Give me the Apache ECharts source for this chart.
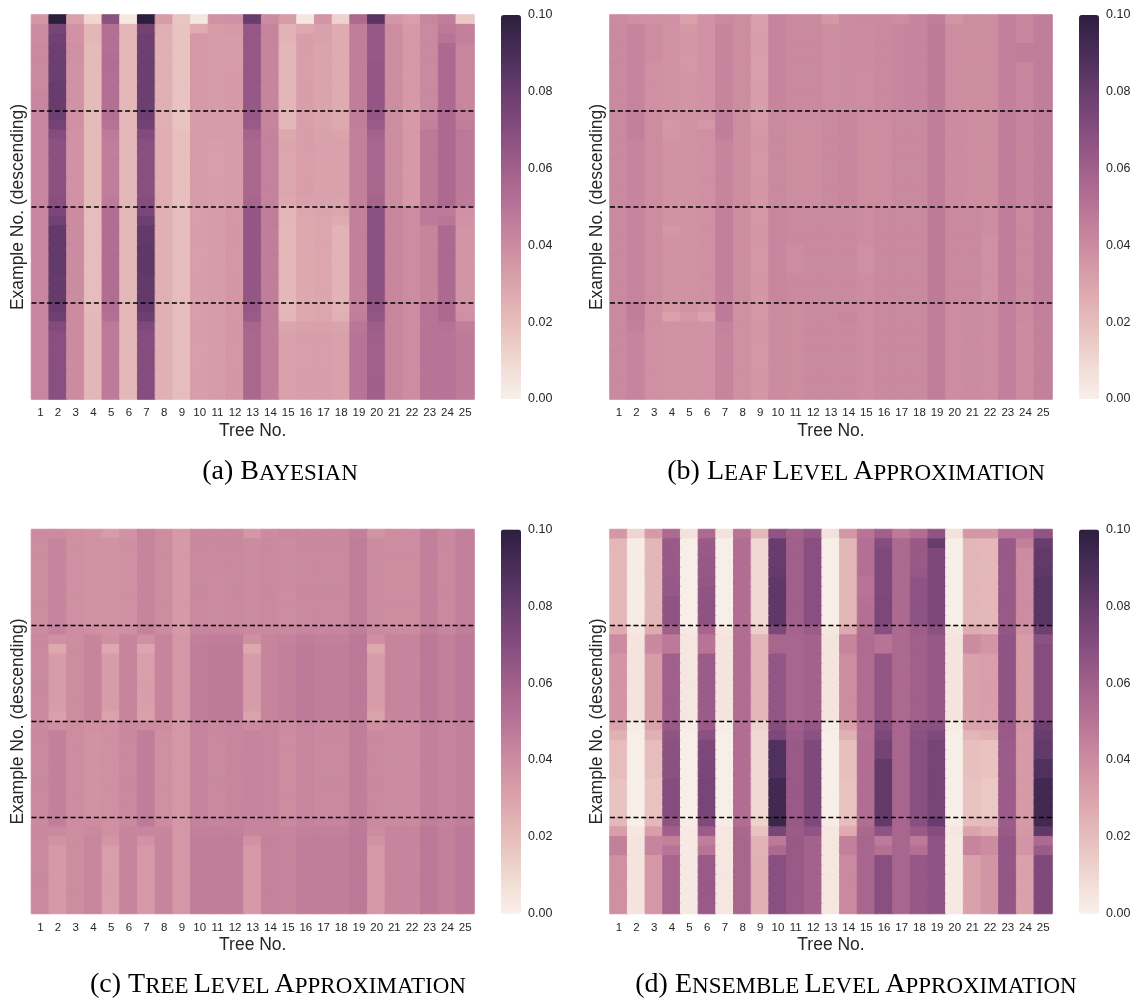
<!DOCTYPE html>
<html>
<head>
<meta charset="utf-8">
<script src="https://cdn.jsdelivr.net/npm/echarts@6/dist/echarts.min.js"></script>
<style>
  body { margin: 0; background: #fff; }
  #chart { width: 1137px; height: 999px; }
</style>
</head>
<body>
<div id="chart"></div>
<script>
// tick labels of the x axis
var treeLabels = ['1','2','3','4','5','6','7','8','9','10','11','12','13','14','15','16','17','18','19','20','21','22','23','24','25'];
// row boundaries drawn as dashed lines
var dividerRows = [10, 20, 30];
// colour bar ticks
var barMin = 0, barMax = 0.1, barStep = 0.02;

// values in thousandths, one array per example row (top to bottom), 25 trees each
var bayesian = [
  [35,100,31,10,68, 3,100,33,17, 4,37,38,80,40,33, 4,36,12,55,85,35,32,42,46,16],
  [40, 75,37,23,52,23, 76,26,18,27,33,34,64,43,24,28,31,27,46,64,39,34,41,48,45],
  [40, 77,37,23,52,23, 78,25,18,34,33,33,64,43,24,32,31,27,46,64,39,34,41,50,45],
  [41, 78,38,21,52,22, 78,25,18,34,33,33,64,43,23,32,30,27,46,64,39,34,41,55,42],
  [41, 79,38,21,53,22, 79,25,18,34,33,33,64,43,23,32,30,27,46,64,39,34,41,55,42],
  [41, 79,37,21,53,22, 79,25,18,34,33,33,64,43,23,32,30,27,46,65,39,34,41,55,42],
  [41, 79,37,21,52,22, 79,25,18,34,33,34,64,43,23,32,30,27,46,65,39,34,41,55,42],
  [41, 80,37,21,52,22, 79,25,18,34,33,34,64,43,23,32,30,27,46,65,39,34,41,55,42],
  [42, 80,37,21,52,22, 79,25,18,34,33,34,64,43,23,32,30,27,46,65,39,34,41,55,42],
  [42, 80,37,21,52,22, 79,25,18,34,33,34,64,43,23,32,30,27,46,65,39,34,41,55,42],
  [42, 79,38,21,52,22, 79,25,18,33,33,33,64,43,23,32,30,28,46,65,39,34,44,55,45],
  [42, 76,38,21,51,22, 77,25,18,33,33,33,63,43,23,32,30,28,46,63,39,34,45,55,46],
  [42, 70,37,21,47,22, 71,26,19,33,33,33,58,44,28,32,31,30,45,59,39,34,48,55,48],
  [42, 68,37,21,46,22, 69,26,19,33,32,33,56,44,29,32,31,31,45,57,39,34,48,55,48],
  [42, 68,37,21,46,22, 69,26,19,33,32,33,56,44,29,32,31,31,45,57,39,34,48,55,48],
  [42, 68,37,21,46,22, 69,26,19,33,32,33,56,44,29,32,31,31,45,57,39,34,48,55,48],
  [42, 68,37,21,46,22, 69,26,19,33,32,33,56,44,29,32,31,31,45,57,39,34,48,55,48],
  [42, 68,37,21,46,22, 69,26,19,33,32,33,56,44,29,32,31,31,45,57,39,34,48,55,48],
  [42, 68,37,21,46,22, 69,26,19,33,32,33,56,44,29,32,31,31,45,57,39,34,48,55,48],
  [42, 69,37,21,47,22, 70,26,19,33,32,33,57,44,28,31,31,30,45,58,39,34,48,55,47],
  [42, 74,40,20,53,22, 74,25,20,32,33,35,65,46,23,29,30,29,45,68,42,39,47,47,38],
  [42, 77,40,20,53,22, 78,25,20,32,33,35,65,46,23,28,29,27,45,68,42,39,47,49,37],
  [42, 82,40,20,53,22, 82,25,20,32,33,35,65,46,22,28,29,24,45,68,42,39,43,55,36],
  [42, 82,40,20,53,22, 82,25,20,32,33,35,65,46,22,28,29,24,45,68,42,39,43,55,36],
  [42, 82,40,20,53,22, 83,25,20,32,33,35,65,46,22,28,29,24,45,68,42,39,43,55,36],
  [42, 82,40,20,53,22, 83,25,20,32,33,35,65,46,22,28,29,24,45,68,42,39,43,55,36],
  [42, 82,40,20,53,22, 83,25,20,32,33,35,65,46,22,28,29,24,45,68,42,39,43,55,36],
  [42, 81,40,20,53,22, 82,25,20,32,33,35,65,46,22,28,29,24,45,68,42,39,43,55,36],
  [42, 81,40,20,53,22, 82,25,20,32,33,35,65,46,22,28,29,24,45,68,42,39,43,55,36],
  [42, 81,40,20,53,22, 82,25,20,32,33,35,65,46,22,28,29,24,45,68,42,39,43,55,36],
  [42, 80,40,21,53,22, 81,25,20,32,33,35,64,46,22,28,29,24,45,66,42,39,50,55,37],
  [42, 78,40,22,52,22, 79,25,20,32,33,35,63,46,23,28,29,25,46,65,42,39,50,55,38],
  [42, 71,40,23,48,22, 72,25,20,32,33,35,57,46,29,31,31,30,49,61,42,39,50,51,46],
  [42, 69,40,23,47,22, 70,25,20,32,33,35,56,46,31,32,32,31,50,60,42,39,50,50,47],
  [42, 69,40,23,47,22, 70,25,20,32,33,35,56,46,31,32,32,31,50,60,42,39,50,50,47],
  [42, 69,40,23,47,22, 70,25,20,32,33,35,56,46,31,32,32,31,50,60,42,39,50,50,47],
  [42, 69,40,23,47,22, 70,25,20,32,33,35,56,46,31,32,32,31,50,60,42,39,50,50,47],
  [42, 69,40,23,47,22, 70,25,20,32,33,35,56,46,31,32,32,31,50,60,42,39,50,50,47],
  [42, 69,40,23,47,22, 70,25,20,32,33,35,56,46,31,32,32,31,50,60,42,39,50,50,47],
  [42, 69,40,23,47,22, 70,25,20,32,33,35,56,46,31,32,32,31,50,60,42,39,50,50,47]
];

var leafLevel = [
  [40,38,38,38,31,37,41,39,32,43,41,41,35,40,41,41,39,43,46,36,39,39,45,42,46],
  [41,43,39,37,35,37,43,39,32,43,41,41,39,40,40,41,42,43,47,39,39,39,45,42,46],
  [41,43,39,37,35,37,43,39,32,43,41,41,39,40,40,41,42,43,47,39,39,39,45,42,46],
  [41,43,39,37,35,37,43,39,32,43,41,41,39,40,40,41,42,43,47,39,39,39,45,46,46],
  [41,43,39,37,35,37,43,39,32,43,41,41,39,40,40,41,42,43,47,39,39,39,45,46,46],
  [41,43,38,37,35,37,43,39,32,43,41,41,39,40,40,41,42,43,47,39,39,39,45,42,46],
  [41,43,38,37,36,37,43,39,32,43,41,41,39,40,39,41,42,43,47,39,39,39,45,42,46],
  [41,43,38,37,36,37,43,39,32,43,41,41,39,40,39,41,42,43,47,39,39,39,45,42,46],
  [41,43,38,37,36,37,43,39,32,43,41,41,39,40,39,41,42,43,47,39,39,39,45,42,46],
  [41,43,38,37,36,37,43,39,32,43,41,41,39,40,39,41,42,43,47,39,39,39,45,42,46],
  [41,45,39,37,37,38,46,39,33,41,40,40,41,42,39,40,41,41,46,40,39,39,46,43,46],
  [41,45,39,35,37,35,46,39,34,41,39,39,41,42,39,39,41,41,46,40,39,39,46,43,46],
  [41,45,39,35,37,38,46,39,35,41,39,39,41,42,39,39,41,41,46,40,39,39,46,43,46],
  [41,43,39,37,37,38,43,39,35,41,39,39,41,42,39,39,41,41,46,40,39,39,46,43,46],
  [41,43,39,37,37,38,43,39,35,41,39,39,41,42,39,39,41,41,46,40,39,39,46,43,46],
  [41,43,39,37,37,38,43,39,35,41,39,39,41,42,39,39,41,41,46,40,39,39,46,43,46],
  [41,43,39,37,37,38,43,39,35,41,39,39,41,42,39,39,41,41,46,40,39,39,46,43,46],
  [41,43,39,37,37,38,43,39,35,41,39,39,41,42,39,39,41,41,46,40,39,39,46,43,46],
  [41,43,39,37,37,38,43,39,35,41,39,39,41,42,39,39,41,41,46,40,39,39,46,43,46],
  [41,43,39,37,37,38,43,39,35,41,39,39,41,42,39,39,41,41,46,40,39,39,46,43,46],
  [41,43,39,37,37,38,45,39,35,42,41,41,41,41,39,41,41,41,47,41,41,39,46,41,46],
  [41,43,39,37,37,38,45,39,35,42,41,41,41,41,39,41,41,41,47,41,41,39,46,41,46],
  [41,43,39,35,37,38,45,39,35,42,41,41,41,41,39,41,41,41,47,41,41,39,46,41,46],
  [41,43,39,37,37,38,45,39,35,42,41,41,41,41,39,41,41,41,47,41,41,38,46,41,46],
  [41,43,39,37,37,38,45,39,35,42,39,41,41,41,38,41,41,41,47,41,41,38,46,41,46],
  [41,43,39,37,37,38,45,39,35,42,39,41,41,41,38,41,41,41,47,41,41,38,46,41,46],
  [41,43,39,37,37,38,45,39,35,42,39,41,41,41,38,41,41,41,47,41,41,38,46,41,46],
  [41,43,39,37,37,38,45,39,35,42,41,41,41,41,39,41,41,41,47,41,41,38,46,41,46],
  [41,43,39,37,37,38,45,39,35,42,41,41,41,41,39,41,41,41,47,41,41,38,46,41,46],
  [41,43,39,37,37,38,45,39,35,42,41,41,41,41,39,41,41,41,47,41,41,38,46,41,46],
  [41,46,38,35,37,35,47,38,35,40,39,41,41,41,39,41,41,41,46,39,40,39,45,41,45],
  [41,46,38,31,35,31,47,38,35,40,39,41,41,42,39,41,41,41,46,39,40,39,45,41,45],
  [41,45,38,37,37,37,44,38,35,40,39,41,41,41,39,41,41,41,46,39,40,39,45,40,45],
  [41,43,38,37,37,37,43,38,35,40,39,41,41,41,39,41,41,41,46,39,40,39,45,40,45],
  [41,43,38,37,37,37,43,38,35,40,39,41,41,41,39,41,41,41,46,39,40,39,45,40,45],
  [41,43,38,37,37,37,43,38,35,40,39,41,41,41,39,41,41,41,46,39,40,39,45,40,45],
  [41,43,38,37,37,37,43,38,35,40,39,41,41,41,39,41,41,41,46,39,40,39,45,40,45],
  [41,43,38,37,37,37,43,38,35,40,39,41,41,41,39,41,41,41,46,39,40,39,45,40,45],
  [41,43,38,37,37,37,43,38,35,40,39,41,41,41,39,41,41,41,46,39,40,39,45,40,45],
  [41,43,38,37,37,37,43,38,35,40,39,41,41,41,39,41,41,41,46,39,40,39,45,40,45]
];

var treeLevel = [
  [40,40,38,37,33,37,43,39,34,41,41,41,35,40,41,41,41,41,45,36,39,39,45,41,45],
  [39,43,38,37,37,38,43,39,34,41,41,41,40,41,40,41,41,41,46,40,39,39,45,41,45],
  [39,43,38,37,37,38,43,39,34,41,41,41,40,41,40,41,41,41,46,40,39,39,45,41,45],
  [39,43,38,37,37,38,43,39,34,41,41,41,40,41,40,41,41,41,46,40,39,39,45,41,45],
  [39,43,38,37,37,38,43,39,34,41,41,41,40,41,40,41,41,41,46,40,39,39,45,41,45],
  [39,43,38,37,37,38,43,39,34,41,40,41,40,41,40,41,41,41,46,40,39,39,45,41,45],
  [39,43,38,37,37,38,43,39,34,41,40,41,40,41,39,41,41,41,46,40,39,39,45,41,45],
  [39,43,38,37,37,38,43,39,34,41,40,41,40,41,39,41,41,41,46,40,39,39,45,41,45],
  [39,43,38,37,37,38,43,39,34,41,40,41,40,41,39,41,41,41,46,40,39,39,45,41,45],
  [39,43,38,37,37,38,43,39,34,41,40,41,40,41,39,41,41,41,46,40,39,39,45,41,45],
  [40,44,39,38,37,38,44,40,34,42,42,42,41,41,41,42,42,42,46,41,40,40,46,42,46],
  [41,38,39,42,38,42,38,43,35,45,46,46,38,43,44,46,45,45,48,38,43,43,48,45,48],
  [41,28,39,43,28,43,29,43,35,46,47,47,28,43,45,47,46,46,48,28,43,43,48,45,48],
  [41,33,39,43,33,43,32,43,35,46,47,47,33,43,45,47,46,46,48,33,43,43,48,45,48],
  [41,33,39,43,33,43,32,43,35,46,47,47,33,43,45,47,46,46,48,33,43,43,48,45,48],
  [41,33,39,43,33,43,32,43,35,46,47,47,33,43,45,47,46,46,48,33,43,43,48,45,48],
  [41,33,39,43,33,43,32,43,35,46,47,47,33,43,45,47,46,46,48,33,43,43,48,45,48],
  [41,33,39,43,33,43,32,43,35,46,47,47,33,43,45,47,46,46,48,33,43,43,48,45,48],
  [41,33,39,43,33,43,32,43,35,46,47,47,33,43,45,47,46,46,48,33,43,43,48,45,48],
  [41,31,39,43,30,43,31,43,35,46,47,47,30,43,45,47,46,46,48,30,43,43,48,45,48],
  [41,38,39,38,38,41,40,39,35,43,41,42,40,42,40,42,41,41,46,38,40,40,45,43,45],
  [41,45,39,37,38,41,46,38,35,43,41,42,43,42,39,42,41,41,46,41,40,40,45,43,45],
  [41,45,39,37,38,41,46,38,35,43,41,42,43,42,39,42,41,41,46,41,40,40,45,43,45],
  [41,45,39,37,38,41,46,38,35,43,41,42,43,42,39,42,41,41,46,41,40,40,45,43,45],
  [41,45,39,37,38,41,46,38,35,43,41,42,43,42,39,42,41,41,46,41,40,40,45,43,45],
  [41,45,39,37,38,41,46,38,35,43,41,42,43,42,39,42,41,41,46,41,40,40,45,43,45],
  [41,45,39,37,38,41,46,38,35,43,41,42,43,42,39,42,41,41,46,41,40,40,45,43,45],
  [41,45,39,37,38,41,46,38,35,43,41,42,43,42,39,42,41,41,46,41,40,40,45,43,45],
  [41,45,39,37,38,41,46,38,35,43,41,42,43,42,39,42,41,41,46,41,40,40,45,43,45],
  [41,45,39,37,38,41,46,38,35,43,41,42,43,42,39,42,41,41,46,41,40,40,45,43,45],
  [41,46,39,39,38,41,47,40,35,44,43,44,43,43,41,44,43,43,47,41,41,41,46,44,46],
  [41,41,39,41,38,42,42,42,35,45,45,45,42,43,42,45,45,45,48,39,43,43,48,45,48],
  [41,37,39,42,36,43,37,43,35,46,46,46,37,44,43,46,46,46,48,37,43,43,48,45,48],
  [41,34,39,42,32,43,34,43,35,46,46,46,34,44,43,46,46,46,48,34,43,43,48,45,48],
  [41,34,39,42,32,43,34,43,35,46,46,46,34,44,43,46,46,46,48,34,43,43,48,45,48],
  [41,34,39,42,32,43,34,43,35,46,46,46,34,44,43,46,46,46,48,34,43,43,48,45,48],
  [41,34,39,42,32,43,34,43,35,46,46,46,34,44,43,46,46,46,48,34,43,43,48,45,48],
  [41,34,39,42,32,43,34,43,35,46,46,46,34,44,43,46,46,46,48,34,43,43,48,45,48],
  [41,34,39,42,32,43,34,43,35,46,46,46,34,44,43,46,46,46,48,34,43,43,48,45,48],
  [41,34,39,42,32,43,34,43,35,46,46,46,34,44,43,46,46,46,48,34,43,43,48,45,48]
];

var ensembleLevel = [
  [35,11,34,55, 6,55, 6,50,22,66,59,64, 6,35,50,60,48,53,66, 6,35,35,50,50,66],
  [23, 2,23,63, 1,63, 1,53,10,80,60,69, 1,23,52,70,55,63,80, 1,23,22,63,45,80],
  [22, 2,23,63, 1,63, 1,53,10,80,60,69, 1,23,52,72,55,63,73, 1,23,22,63,39,82],
  [22, 2,23,63, 1,64, 1,53,10,80,60,69, 1,23,52,72,55,63,73, 1,23,22,63,39,82],
  [22, 2,23,63, 1,64, 1,53,10,81,60,69, 1,23,52,72,55,64,73, 1,23,22,63,39,83],
  [22, 2,23,64, 1,65, 1,53,10,83,60,69, 1,23,50,72,55,66,73, 1,23,22,63,39,85],
  [22, 2,23,64, 1,66, 1,53,10,83,60,69, 1,23,50,72,55,66,73, 1,23,22,63,39,85],
  [22, 2,23,66, 1,67, 1,53,10,83,60,69, 1,23,51,73,55,67,73, 1,23,22,63,39,85],
  [22, 2,23,66, 1,67, 1,53,10,83,60,69, 1,23,52,73,55,67,73, 1,23,22,63,39,85],
  [22, 2,23,66, 1,67, 1,53,10,83,60,69, 1,23,52,73,55,67,73, 1,23,22,63,39,85],
  [27, 4,27,60, 3,57, 4,53,13,73,58,62, 4,28,53,69,55,61,68, 4,27,25,65,36,78],
  [40, 5,41,48, 4,50, 5,53,23,57,57,59, 5,43,54,50,55,60,64, 5,40,36,66,33,68],
  [40, 5,41,48, 4,50, 5,53,23,57,57,59, 5,43,54,50,55,60,64, 5,40,36,66,33,70],
  [36, 5,33,60, 4,62, 5,53,23,65,57,59, 5,39,54,65,55,60,64, 5,31,32,66,33,70],
  [36, 5,33,60, 4,62, 5,53,23,65,57,59, 5,39,54,65,55,60,64, 5,31,32,66,33,70],
  [36, 5,33,60, 4,62, 5,53,23,65,57,59, 5,39,54,65,55,60,64, 5,31,32,66,33,70],
  [36, 5,33,60, 4,62, 5,53,23,65,57,59, 5,39,54,65,55,60,64, 5,31,32,66,33,70],
  [36, 5,33,60, 4,62, 5,53,23,65,57,59, 5,39,54,65,55,60,64, 5,31,32,66,33,70],
  [36, 5,33,60, 4,62, 5,53,23,65,57,59, 5,39,54,65,55,60,64, 5,31,32,66,33,70],
  [36, 5,33,60, 4,62, 5,53,23,65,57,59, 5,39,54,65,55,60,64, 5,31,32,66,33,70],
  [30, 2,30,63, 2,63, 2,53,12,70,60,65, 2,31,53,70,57,66,68, 2,30,30,63,35,78],
  [25, 1,25,66, 1,68, 1,53,10,73,62,68, 1,25,52,73,57,68,72, 1,23,25,63,34,80],
  [20, 1,20,68, 1,73, 1,53,10,88,63,72, 1,19,53,76,57,69,75, 1,19,18,62,34,82],
  [20, 1,20,68, 1,73, 1,53,10,88,63,72, 1,19,53,76,57,69,75, 1,19,18,62,34,82],
  [20, 1,20,68, 1,74, 1,53,10,88,63,72, 1,19,53,82,57,69,75, 1,19,18,62,34,88],
  [20, 1,20,68, 1,74, 1,53,10,88,63,72, 1,19,53,82,57,69,75, 1,19,18,62,34,88],
  [18, 1,18,70, 1,75, 1,53,10,93,63,72, 1,18,53,82,57,69,75, 1,18,16,62,34,93],
  [18, 1,18,70, 1,75, 1,53,10,93,63,72, 1,18,53,82,57,69,75, 1,18,16,62,34,93],
  [18, 1,18,70, 1,75, 1,53,10,93,63,72, 1,18,53,82,57,69,75, 1,18,16,62,34,93],
  [18, 1,18,70, 1,75, 1,53,10,93,63,72, 1,18,53,82,57,69,75, 1,18,16,62,34,93],
  [22, 1,22,66, 2,72, 2,53,12,95,63,72, 2,20,53,82,57,69,80, 2,20,20,62,34,93],
  [32, 4,32,60, 3,62, 4,56,18,75,62,66, 4,27,56,66,57,63,70, 4,30,26,63,35,83],
  [45, 5,43,45, 3,46, 4,57,24,48,63,59, 4,45,57,47,57,47,66, 3,43,39,65,36,55],
  [45, 5,43,50, 3,50, 4,57,24,55,63,59, 4,45,57,52,57,52,66, 3,43,39,65,36,62],
  [38, 5,35,57, 3,63, 4,57,25,69,63,59, 4,41,57,69,57,64,66, 3,31,36,65,31,72],
  [38, 5,35,57, 3,63, 4,57,25,69,63,59, 4,41,57,69,57,64,66, 3,31,36,65,31,72],
  [38, 5,35,57, 3,63, 4,57,25,69,63,59, 4,41,57,69,57,64,66, 3,31,36,65,31,72],
  [38, 5,35,57, 3,63, 4,57,25,69,63,59, 4,41,57,69,57,64,66, 3,31,36,65,31,72],
  [38, 5,35,57, 3,63, 4,57,25,69,63,59, 4,41,57,69,57,64,66, 3,31,36,65,31,72],
  [38, 5,35,57, 3,63, 4,57,25,69,63,59, 4,41,57,69,57,64,66, 3,31,36,65,31,72]
];

// seaborn-like cubehelix palette, light to dark
function cubehelix(x) {
    var a = 0.8 * x * (1 - x) / 2;
    var phi = 2 * Math.PI * (0.4 * x);
    var c = Math.cos(phi), s = Math.sin(phi);
    return [
        x + a * (-0.14861 * c + 1.78277 * s),
        x + a * (-0.29227 * c - 0.90649 * s),
        x + a * (1.97294 * c)
    ].map(function(v){ return Math.round(255 * Math.min(1, Math.max(0, v))); });
}
var paletteRgb = [];
for (var i = 0; i < 41; i++) {
    paletteRgb.push(cubehelix(0.95 - 0.8 * i / 40));
}
var palette = paletteRgb.map(function(c){ return 'rgb(' + c.join(',') + ')'; });

// same linear lookup the visualMap does, used to paint a thin cell border over seams
function colorAt(v) {
    var t = Math.min(1, Math.max(0, (v - barMin) / (barMax - barMin))) * (paletteRgb.length - 1);
    var i0 = Math.floor(t), i1 = Math.min(paletteRgb.length - 1, i0 + 1), f = t - i0;
    var c = paletteRgb[i0].map(function(v0, j){ return Math.round(v0 + (paletteRgb[i1][j] - v0) * f); });
    return 'rgb(' + c.join(',') + ')';
}

var rowNames = [];
for (var r = 0; r < bayesian.length; r++) rowNames.push(String(r));

function cells(matrix) {
    var out = [];
    matrix.forEach(function(row, y){
        row.forEach(function(v, x){
            var val = v / 1000;
            out.push({ value: [x, y, val], itemStyle: { borderColor: colorAt(val), borderWidth: 1 } });
        });
    });
    return out;
}

var textColor = '#262626';
var sans = 'Liberation Sans, Arial, sans-serif';
var serif = 'Liberation Serif, Times New Roman, serif';

var panels = [
    { matrix: bayesian,      left: 31.5, top: 15,    width: 442.5, bar: 501,  cap: '{n|(a) B}{s|AYESIAN}', cx: 280, cy: 458 },
    { matrix: leafLevel,     left: 610,  top: 15,    width: 442,   bar: 1079, cap: '{n|(b) L}{s|EAF} {n|L}{s|EVEL} {n|A}{s|PPROXIMATION}', cx: 856, cy: 458 },
    { matrix: treeLevel,     left: 31.5, top: 529.5, width: 442.5, bar: 501,  cap: '{n|(c) T}{s|REE} {n|L}{s|EVEL} {n|A}{s|PPROXIMATION}', cx: 278, cy: 971 },
    { matrix: ensembleLevel, left: 610,  top: 529.5, width: 442,   bar: 1079, cap: '{n|(d) E}{s|NSEMBLE} {n|L}{s|EVEL} {n|A}{s|PPROXIMATION}', cx: 856, cy: 971 }
];
var plotHeight = 384;

var option = {
    animation: false,
    backgroundColor: '#fff',
    title: [], grid: [], xAxis: [], yAxis: [], visualMap: [], series: []
};

panels.forEach(function(p, k){
    option.title.push({
        text: p.cap, left: p.cx, top: p.cy, textAlign: 'center', padding: 0,
        textStyle: {
            fontWeight: 'normal',
            rich: {
                n: { fontFamily: serif, fontSize: 28, fontWeight: 'normal', lineHeight: 28, color: '#000', verticalAlign: 'bottom' },
                s: { fontFamily: serif, fontSize: 23, fontWeight: 'normal', lineHeight: 23, color: '#000', verticalAlign: 'bottom', padding: [0, 0, 0.5, 0] }
            }
        }
    });
    option.grid.push({ left: p.left, top: p.top, width: p.width, height: plotHeight, outerBoundsMode: 'none' });

    // heatmap axes
    option.xAxis.push({
        type: 'category', gridIndex: k, data: treeLabels,
        axisLine: { show: false }, axisTick: { show: false }, splitLine: { show: false },
        axisLabel: { interval: 0, fontFamily: sans, fontSize: 11.5, color: textColor, margin: 8 },
        name: 'Tree No.', nameLocation: 'middle', nameGap: 23,
        nameTextStyle: { fontFamily: sans, fontSize: 17.5, color: textColor }
    });
    option.yAxis.push({
        type: 'category', gridIndex: k, data: rowNames, inverse: true,
        axisLine: { show: false }, axisTick: { show: false }, axisLabel: { show: false }, splitLine: { show: false },
        name: 'Example No. (descending)', nameLocation: 'middle', nameGap: 4,
        nameTextStyle: { fontFamily: sans, fontSize: 17.5, color: textColor }
    });
    // hidden value axes for the dashed separators
    option.xAxis.push({ type: 'value', gridIndex: k, min: 0, max: treeLabels.length, show: false });
    option.yAxis.push({ type: 'value', gridIndex: k, min: 0, max: p.matrix.length, inverse: true, show: false });

    option.series.push({
        type: 'heatmap', xAxisIndex: 2 * k, yAxisIndex: 2 * k,
        data: cells(p.matrix),
        emphasis: { disabled: true }, silent: true
    });
    dividerRows.forEach(function(row){
        option.series.push({
            type: 'line', xAxisIndex: 2 * k + 1, yAxisIndex: 2 * k + 1,
            data: [[0, row], [treeLabels.length, row]],
            symbol: 'none', silent: true, z: 5,
            lineStyle: { color: '#000', width: 1.6, type: [5, 2.8] }
        });
    });
    option.visualMap.push({
        type: 'continuous', seriesIndex: k * (1 + dividerRows.length),
        min: barMin, max: barMax, calculable: false, realtime: false,
        left: p.bar, top: p.top, padding: 0, itemWidth: 20, itemHeight: plotHeight,
        text: null, showLabel: false, hoverLink: false,
        inRange: { color: palette }
    });
});

// colour bar tick axes
panels.forEach(function(p, k){
    var g = panels.length + k;
    option.grid.push({ left: p.bar, top: p.top, width: 20, height: plotHeight, outerBoundsMode: 'none' });
    option.xAxis.push({ type: 'value', gridIndex: g, show: false, min: 0, max: 1 });
    option.yAxis.push({
        type: 'value', gridIndex: g, position: 'right', min: barMin, max: barMax, interval: barStep,
        axisLine: { show: false }, axisTick: { show: false }, splitLine: { show: false },
        axisLabel: { fontFamily: sans, fontSize: 12.5, color: textColor, margin: 7,
                     formatter: function(v){ return v.toFixed(2); } }
    });
});

var chart = echarts.init(document.getElementById('chart'), null, { renderer: 'canvas' });
chart.setOption(option);
</script>
</body>
</html>
